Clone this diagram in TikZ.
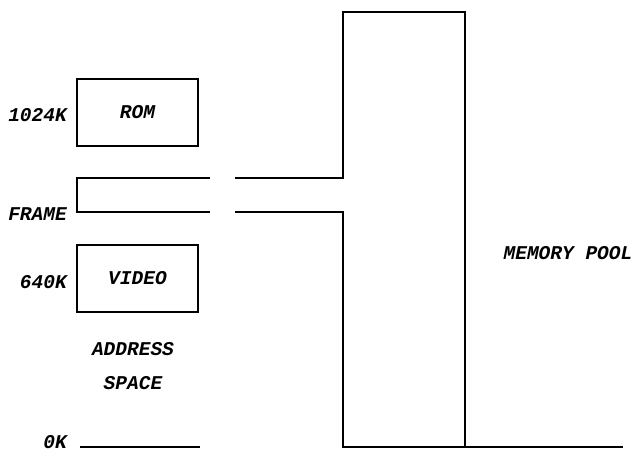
\documentclass[tikz,border=0pt]{standalone}
\usepackage{fontspec}
\setmonofont{Liberation Mono}
\begin{document}
\begin{tikzpicture}[x=1pt,y=-1pt,
  lbl/.style={font=\ttfamily\itshape\bfseries\fontsize{19.5}{19.5}\selectfont, inner sep=0pt},
  memblock/.style={draw, line width=1.2pt, minimum width=121pt, minimum height=67pt, inner sep=0pt, lbl},
  ln/.style={line width=1.2pt}]
\useasboundingbox (0,0) rectangle (636,454);
% address space blocks
\node[memblock] (rom) at (137.5,112.5) {ROM};
\node[memblock] (video) at (137.5,278.5) {VIDEO};
% side labels
\node[lbl, anchor=east] (l1024) at (67,115) {1024K};
\node[lbl, anchor=east] (lframe) at (67,214) {FRAME};
\node[lbl, anchor=east] (l640) at (67,282) {640K};
\node[lbl, anchor=east] (l0) at (67,442) {0K};
\node[lbl] (addr) at (133,349) {ADDRESS};
\node[lbl] (space) at (133,383) {SPACE};
\node[lbl] (pool) at (568,253) {MEMORY POOL};
% frame window
\coordinate (ft) at (210,178);
\coordinate (fb) at (210,212);
\draw[ln] (ft) -- (77,178) -- (77,212) -- (fb);
% memory pool outline
\coordinate (pt) at (235,178);
\coordinate (pb) at (235,212);
\draw[ln] (pt) -- (343,178) -- (343,12) -- (465,12) -- (465,447);
\draw[ln] (pb) -- (343,212) -- (343,447) -- (623,447);
% 0K line
\coordinate (z1) at (80,447);
\coordinate (z2) at (200,447);
\draw[ln] (z1) -- (z2);
\end{tikzpicture}
\end{document}
